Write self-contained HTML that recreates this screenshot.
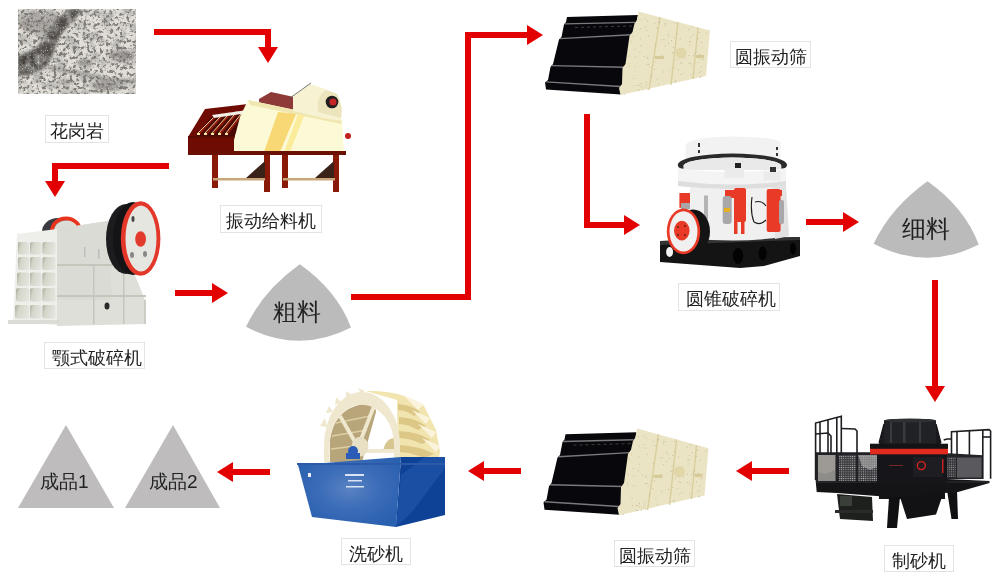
<!DOCTYPE html>
<html><head><meta charset="utf-8">
<style>
html,body{margin:0;padding:0;background:#fff;width:1000px;height:582px;overflow:hidden;}
body{position:relative;font-family:"Liberation Sans",sans-serif;-webkit-font-smoothing:antialiased;}
.lbl,.pt{will-change:transform;}
.lbl{position:absolute;box-sizing:border-box;border:1px solid #e3e3e3;background:#fff;color:#222;font-size:17.6px;line-height:30px;text-align:center;white-space:nowrap;}
.pt{position:absolute;color:#222;white-space:nowrap;}
svg{position:absolute;left:0;top:0;}
</style></head><body>
<svg id="bg" width="1000" height="582" viewBox="0 0 1000 582">
<defs>
<filter id="rockf" x="0" y="0" width="100%" height="100%">
<feTurbulence type="fractalNoise" baseFrequency="0.3" numOctaves="3" seed="11"/>
<feColorMatrix type="matrix" values="0 0 0 0 0.16  0 0 0 0 0.15  0 0 0 0 0.14  -6 0 0 0 3.0"/>
</filter>
<filter id="rockm" x="0" y="0" width="100%" height="100%">
<feTurbulence type="fractalNoise" baseFrequency="0.09" numOctaves="2" seed="5"/>
<feColorMatrix type="matrix" values="0 0 0 0 0.45  0 0 0 0 0.44  0 0 0 0 0.42  -4 0 0 0 2.2"/>
</filter>
<filter id="blur2" x="-20%" y="-20%" width="140%" height="140%"><feGaussianBlur stdDeviation="1.5"/></filter>
<filter id="speck" x="0" y="0" width="100%" height="100%">
<feTurbulence type="turbulence" baseFrequency="0.6" numOctaves="2" seed="3" result="n"/>
<feColorMatrix in="n" type="matrix" values="0 0 0 0 0.97  0 0 0 0 0.96  0 0 0 0 0.94  4 0 0 0 -1.6"/>
</filter>
<clipPath id="rockclip"><rect x="18" y="9" width="118" height="85"/></clipPath>
</defs>
<!-- rock -->
<g clip-path="url(#rockclip)">
<rect x="18" y="9" width="118" height="85" fill="#e0ddd7"/>
<g filter="url(#blur2)" fill="#3a3632">
<path opacity="0.85" d="M70,9 L82,9 Q76,18 68,26 Q58,36 55,48 Q52,60 44,68 Q34,75 18,76 L18,56 Q30,52 38,46 Q46,36 52,26 Q60,16 70,9 Z"/>
<ellipse cx="40" cy="22" rx="22" ry="12" opacity="0.35"/>
<ellipse cx="32" cy="63" rx="14" ry="9" opacity="0.6"/>
<ellipse cx="122" cy="56" rx="13" ry="6" opacity="0.45"/>
<ellipse cx="85" cy="63" rx="8" ry="4" opacity="0.4"/>
<ellipse cx="108" cy="86" rx="16" ry="5" opacity="0.45"/>
<ellipse cx="65" cy="82" rx="9" ry="3" opacity="0.35"/>
<path d="M48,66 Q75,70 103,77 Q120,80 136,80 L136,83 Q118,84 100,80 Q74,74 48,69 Z" opacity="0.5"/>
</g>
<rect x="18" y="9" width="118" height="85" fill="#000" filter="url(#rockm)" opacity="0.8"/>
<rect x="18" y="9" width="118" height="85" fill="#000" filter="url(#rockf)" opacity="0.85"/>
<rect x="18" y="9" width="118" height="85" filter="url(#speck)" opacity="0.5"/>
</g>

<!-- arrows -->
<g fill="#e20000">
<!-- a1 -->
<rect x="154" y="29" width="117" height="6"/>
<rect x="265" y="29" width="6" height="19"/>
<polygon points="258,47 278,47 268,63"/>
<!-- a2 -->
<rect x="52" y="163" width="117" height="6"/>
<rect x="52" y="163" width="6" height="19"/>
<polygon points="45,181 65,181 55,197"/>
<!-- a3 -->
<rect x="175" y="290" width="38" height="6"/>
<polygon points="212,283 228,293 212,303"/>
<!-- a4 -->
<rect x="351" y="294" width="120" height="6"/>
<rect x="465" y="32" width="6" height="268"/>
<rect x="465" y="32" width="63" height="6"/>
<polygon points="527,25 543,35 527,45"/>
<!-- a5 -->
<rect x="584" y="114" width="6" height="114"/>
<rect x="584" y="222" width="41" height="6"/>
<polygon points="624,215 640,225 624,235"/>
<!-- a6 -->
<rect x="806" y="219" width="38" height="6"/>
<polygon points="843,212 859,222 843,232"/>
<!-- a7 -->
<rect x="932" y="280" width="6" height="107"/>
<polygon points="925,386 945,386 935,402"/>
<!-- a8 -->
<rect x="751" y="468" width="38" height="6"/>
<polygon points="752,461 736,471 752,481"/>
<!-- a9 -->
<rect x="483" y="468" width="38" height="6"/>
<polygon points="484,461 468,471 484,481"/>
<!-- a10 -->
<rect x="232" y="469" width="38" height="6"/>
<polygon points="233,462 217,472 233,482"/>
</g>

<!-- piles -->
<g fill="#bbbbbb">
<path d="M299.8,264.3 Q337,290.5 351,327.5 Q298.5,354.5 246,326.8 Q263,290.5 299.8,264.3 Z"/>
<path d="M927.5,181.2 Q964.7,207.4 978.7,244.4 Q926.2,271.4 873.7,243.7 Q890.7,207.4 927.5,181.2 Z"/>
<polygon points="66,425 114,508 18,508" fill="#bebcbd"/>
<polygon points="173,425 220,508 125,508" fill="#bebcbd"/>
</g>
</svg>

<!-- pile text -->
<div class="pt" style="left:273px;top:298px;font-size:24px;line-height:28px;">粗料</div>
<div class="pt" style="left:902px;top:215px;font-size:24px;line-height:28px;">细料</div>
<div class="pt" style="left:40px;top:470px;font-size:19px;line-height:24px;">成品1</div>
<div class="pt" style="left:149px;top:470px;font-size:19px;line-height:24px;">成品2</div>

<!-- labels -->
<div class="lbl" style="left:45px;top:115px;width:64px;height:28px;">花岗岩</div>
<div class="lbl" style="left:220px;top:205px;width:102px;height:28px;">振动给料机</div>
<div class="lbl" style="left:44px;top:342px;width:101px;height:27px;padding-left:5px;">颚式破碎机</div>
<div class="lbl" style="left:730px;top:41px;width:81px;height:27px;">圆振动筛</div>
<div class="lbl" style="left:678px;top:283px;width:102px;height:28px;padding-left:3px;">圆锥破碎机</div>
<div class="lbl" style="left:614px;top:540px;width:81px;height:27px;">圆振动筛</div>
<div class="lbl" style="left:341px;top:538px;width:70px;height:27px;">洗砂机</div>
<div class="lbl" style="left:884px;top:545px;width:70px;height:27px;">制砂机</div>

<!-- machines -->
<svg id="mach" width="1000" height="582" viewBox="0 0 1000 582">


<!-- jaw crusher -->
<g id="jaw">
<!-- rear flywheel -->
<ellipse cx="58" cy="232" rx="16" ry="14" fill="#3a3a42"/>
<path d="M50,231 A16,14.5 0 0 1 82,231 L78,231 A12,10.5 0 0 0 54,231 Z" fill="#e8341c"/>
<path d="M54,231 A12,10.5 0 0 1 78,231 Z" fill="#dcdcd6"/>
<!-- side body -->
<polygon points="55,229 108,221 112,218 145,300 146,324 57,326" fill="#dedfd9"/>
<polygon points="57,229 108,221 112,300 57,300" fill="#dadbd4"/>
<g fill="#c4c6bc">
<rect x="57" y="264" width="88" height="2"/>
<rect x="57" y="295" width="89" height="2"/>
<rect x="93" y="266" width="1.5" height="58"/>
<rect x="123" y="266" width="1.5" height="58"/>
</g>
<rect x="144" y="300" width="2" height="24" fill="#ccccc4"/>
<ellipse cx="107" cy="306" rx="2.5" ry="3.5" fill="#2a2a2a"/>
<g fill="#bdbdbd">
<rect x="84" y="247" width="1.5" height="10"/>
<rect x="98" y="249" width="1.5" height="10"/>
</g>
<!-- front face -->
<polygon points="17,234 57,229 57,325 13,322" fill="#eeeeea"/>
<defs><linearGradient id="cellg" x1="0" y1="0" x2="1" y2="0.3"><stop offset="0" stop-color="#a8ac9a"/><stop offset="0.35" stop-color="#d4d6ca"/><stop offset="1" stop-color="#e2e3dc"/></linearGradient></defs>
<g fill="url(#cellg)">
<rect x="18" y="242" width="11" height="12.5" rx="2"/>
<rect x="30" y="242" width="11.3" height="12.5" rx="2"/>
<rect x="42.4" y="242" width="13" height="12.5" rx="2"/>
<rect x="18" y="257" width="11" height="13" rx="2"/>
<rect x="30" y="257" width="11.3" height="13" rx="2"/>
<rect x="42.4" y="257" width="13" height="13" rx="2"/>
<rect x="17" y="272.6" width="12" height="13.4" rx="2"/>
<rect x="30" y="272.6" width="11.3" height="13.4" rx="2"/>
<rect x="42.4" y="272.6" width="13" height="13.4" rx="2"/>
<rect x="16" y="288" width="13" height="13.6" rx="2"/>
<rect x="30" y="288" width="11.3" height="13.6" rx="2"/>
<rect x="42.4" y="288" width="13" height="13.6" rx="2"/>
<rect x="15" y="305" width="14" height="13.4" rx="2"/>
<rect x="30" y="305" width="11.3" height="13.4" rx="2"/>
<rect x="42.4" y="305" width="13" height="13.4" rx="2"/>
</g>
<rect x="8" y="320" width="52" height="4" fill="#dcdcd6"/>
<!-- big flywheel -->
<ellipse cx="126" cy="239" rx="20" ry="35" fill="#1c1c1e"/>
<ellipse cx="133" cy="238.5" rx="20" ry="36.5" fill="#141416"/>
<ellipse cx="140.6" cy="238.5" rx="19.8" ry="37.3" fill="#e3372a"/>
<ellipse cx="141" cy="238.5" rx="15.5" ry="33" fill="#e6e6e0"/>
<ellipse cx="140.6" cy="239" rx="5.4" ry="7.8" fill="#e23b2d"/>
<ellipse cx="133" cy="219" rx="1.5" ry="3" fill="#444"/>
<ellipse cx="132" cy="255" rx="2" ry="3" fill="#888"/>
<ellipse cx="145" cy="254" rx="2" ry="3" fill="#888"/>
</g>


<!-- screen top -->
<g id="scr1">
<polygon points="567,17 638,15 621,94.5 546,89.6 545,82.5 548,80 550.5,67 553,64 559,39.5 561.5,37 564,24.5 566,22" fill="#08080c"/>
<g stroke="#7a7a7c" stroke-width="1.4">
<line x1="564.7" y1="23.9" x2="635" y2="22.4"/>
<line x1="560" y1="38.6" x2="631.2" y2="34.7"/>
<line x1="551.6" y1="65.6" x2="624.2" y2="67.2"/>
<line x1="546.2" y1="81.9" x2="620.4" y2="86.5"/>
</g>
<g stroke="#4a4a4c" stroke-width="0.8" stroke-dasharray="3,3">
<line x1="575" y1="27.5" x2="632" y2="26"/>
</g>
<polygon points="638.5,11.4 710,30.4 706,76 620.5,95 619,88 622,84 622.5,68 625.5,64 629.5,36 632.5,32 634.5,23.5 637,20" fill="#ebe4c4"/>
<g stroke="#d8ce9e" stroke-width="1.4">
<line x1="660" y1="17" x2="649" y2="90"/>
<line x1="678" y1="22" x2="671" y2="85"/>
<line x1="698" y1="27.5" x2="693" y2="79"/>
</g>
<g fill="#b8ad84" opacity="0.8"><rect x="639.7" y="18.9" width="0.9" height="0.9"/><rect x="654.4" y="23.3" width="0.9" height="0.9"/><rect x="688.4" y="29.1" width="0.9" height="0.9"/><rect x="667.4" y="33.8" width="0.9" height="0.9"/><rect x="637.7" y="89.8" width="0.9" height="0.9"/><rect x="691.6" y="26.6" width="0.9" height="0.9"/><rect x="646.5" y="63.9" width="0.9" height="0.9"/><rect x="673.7" y="67.8" width="0.9" height="0.9"/><rect x="664.5" y="25.3" width="0.9" height="0.9"/><rect x="668.4" y="35.8" width="0.9" height="0.9"/><rect x="701.6" y="59.2" width="0.9" height="0.9"/><rect x="664.8" y="45.6" width="0.9" height="0.9"/><rect x="673.1" y="47.1" width="0.9" height="0.9"/><rect x="632.8" y="36.2" width="0.9" height="0.9"/><rect x="643.8" y="56.0" width="0.9" height="0.9"/><rect x="661.4" y="39.5" width="0.9" height="0.9"/><rect x="656.0" y="27.4" width="0.9" height="0.9"/><rect x="676.2" y="33.8" width="0.9" height="0.9"/><rect x="650.7" y="74.2" width="0.9" height="0.9"/><rect x="647.5" y="58.0" width="0.9" height="0.9"/><rect x="688.4" y="62.9" width="0.9" height="0.9"/><rect x="639.8" y="38.5" width="0.9" height="0.9"/><rect x="634.3" y="49.5" width="0.9" height="0.9"/><rect x="675.1" y="80.3" width="0.9" height="0.9"/><rect x="645.0" y="26.5" width="0.9" height="0.9"/><rect x="658.9" y="21.7" width="0.9" height="0.9"/><rect x="690.1" y="41.2" width="0.9" height="0.9"/><rect x="644.7" y="18.4" width="0.9" height="0.9"/><rect x="629.2" y="55.5" width="0.9" height="0.9"/><rect x="689.2" y="45.2" width="0.9" height="0.9"/><rect x="640.3" y="45.3" width="0.9" height="0.9"/><rect x="640.9" y="86.5" width="0.9" height="0.9"/><rect x="694.5" y="52.9" width="0.9" height="0.9"/><rect x="640.3" y="27.9" width="0.9" height="0.9"/><rect x="639.3" y="84.8" width="0.9" height="0.9"/><rect x="703.4" y="58.6" width="0.9" height="0.9"/><rect x="700.9" y="66.2" width="0.9" height="0.9"/><rect x="690.8" y="74.0" width="0.9" height="0.9"/><rect x="637.4" y="85.1" width="0.9" height="0.9"/><rect x="649.0" y="66.5" width="0.9" height="0.9"/><rect x="691.6" y="65.3" width="0.9" height="0.9"/><rect x="693.0" y="55.4" width="0.9" height="0.9"/><rect x="678.2" y="69.0" width="0.9" height="0.9"/><rect x="642.7" y="89.4" width="0.9" height="0.9"/><rect x="676.4" y="59.0" width="0.9" height="0.9"/><rect x="692.5" y="77.3" width="0.9" height="0.9"/><rect x="698.8" y="57.4" width="0.9" height="0.9"/><rect x="679.8" y="38.4" width="0.9" height="0.9"/><rect x="700.0" y="76.5" width="0.9" height="0.9"/><rect x="661.4" y="55.3" width="0.9" height="0.9"/><rect x="672.7" y="52.0" width="0.9" height="0.9"/><rect x="697.6" y="62.3" width="0.9" height="0.9"/><rect x="630.8" y="41.2" width="0.9" height="0.9"/><rect x="688.6" y="55.0" width="0.9" height="0.9"/><rect x="668.0" y="42.8" width="0.9" height="0.9"/><rect x="690.4" y="36.8" width="0.9" height="0.9"/><rect x="639.5" y="51.9" width="0.9" height="0.9"/><rect x="628.5" y="63.4" width="0.9" height="0.9"/><rect x="699.5" y="54.1" width="0.9" height="0.9"/><rect x="657.9" y="83.8" width="0.9" height="0.9"/><rect x="645.8" y="81.9" width="0.9" height="0.9"/><rect x="656.9" y="78.7" width="0.9" height="0.9"/><rect x="633.4" y="85.2" width="0.9" height="0.9"/><rect x="663.5" y="39.1" width="0.9" height="0.9"/><rect x="646.7" y="56.9" width="0.9" height="0.9"/><rect x="662.8" y="71.5" width="0.9" height="0.9"/><rect x="640.6" y="82.9" width="0.9" height="0.9"/><rect x="650.8" y="75.9" width="0.9" height="0.9"/><rect x="680.3" y="62.4" width="0.9" height="0.9"/><rect x="646.8" y="88.5" width="0.9" height="0.9"/><rect x="646.1" y="84.6" width="0.9" height="0.9"/><rect x="690.4" y="62.7" width="0.9" height="0.9"/><rect x="658.7" y="22.1" width="0.9" height="0.9"/><rect x="688.9" y="41.1" width="0.9" height="0.9"/><rect x="701.0" y="42.0" width="0.9" height="0.9"/><rect x="671.0" y="40.1" width="0.9" height="0.9"/><rect x="634.5" y="66.3" width="0.9" height="0.9"/><rect x="648.1" y="35.8" width="0.9" height="0.9"/><rect x="671.7" y="52.6" width="0.9" height="0.9"/><rect x="628.7" y="66.0" width="0.9" height="0.9"/><rect x="680.1" y="74.1" width="0.9" height="0.9"/><rect x="674.8" y="81.5" width="0.9" height="0.9"/><rect x="655.4" y="61.5" width="0.9" height="0.9"/><rect x="700.5" y="70.5" width="0.9" height="0.9"/><rect x="646.5" y="29.8" width="0.9" height="0.9"/><rect x="648.0" y="63.9" width="0.9" height="0.9"/><rect x="654.8" y="44.5" width="0.9" height="0.9"/><rect x="693.2" y="34.4" width="0.9" height="0.9"/><rect x="634.9" y="56.5" width="0.9" height="0.9"/><rect x="681.8" y="62.9" width="0.9" height="0.9"/><rect x="675.3" y="23.4" width="0.9" height="0.9"/><rect x="624.2" y="93.7" width="0.9" height="0.9"/><rect x="673.5" y="36.9" width="0.9" height="0.9"/><rect x="638.4" y="89.8" width="0.9" height="0.9"/><rect x="700.1" y="76.9" width="0.9" height="0.9"/><rect x="633.0" y="78.0" width="0.9" height="0.9"/><rect x="680.6" y="57.1" width="0.9" height="0.9"/><rect x="706.3" y="32.6" width="0.9" height="0.9"/><rect x="666.2" y="23.5" width="0.9" height="0.9"/><rect x="647.1" y="20.5" width="0.9" height="0.9"/><rect x="644.6" y="86.6" width="0.9" height="0.9"/><rect x="682.6" y="72.9" width="0.9" height="0.9"/><rect x="698.8" y="71.9" width="0.9" height="0.9"/><rect x="669.5" y="69.7" width="0.9" height="0.9"/><rect x="684.6" y="57.5" width="0.9" height="0.9"/><rect x="664.2" y="23.3" width="0.9" height="0.9"/><rect x="695.7" y="51.6" width="0.9" height="0.9"/><rect x="698.5" y="32.0" width="0.9" height="0.9"/><rect x="654.0" y="68.7" width="0.9" height="0.9"/><rect x="697.3" y="38.2" width="0.9" height="0.9"/></g>
<circle cx="681" cy="53" r="5.5" fill="#e0d6a8"/>
<rect x="655" y="56" width="9" height="3" fill="#d5ca98"/>
<rect x="696" y="55" width="8" height="3" fill="#d5ca98"/>
</g>


<!-- cone crusher -->
<g id="cone">
<!-- base -->
<polygon points="660,241 800,237 800,256 764,266 740,268 660,262" fill="#141414"/>
<polygon points="660,241 800,237 800,240 660,245" fill="#333"/>
<g fill="#030303">
<ellipse cx="738" cy="256" rx="5" ry="8"/>
<ellipse cx="762.6" cy="253.5" rx="4" ry="7"/>
<ellipse cx="793" cy="248.6" rx="3" ry="6"/>
</g>
<ellipse cx="669.6" cy="252" rx="3.5" ry="5" fill="#f4f4f4"/>
<!-- lower body -->
<path d="M690,186 L786,186 L789,236 Q740,244 690,238 Z" fill="#f0f0f0"/>
<path d="M772,186 L786,186 L789,236 L775,239 Z" fill="#e2e2e2"/>
<!-- top cap -->
<path d="M685.6,145 Q690,137 732,136.5 Q775,137 780.5,142 L780.5,158 Q732,164 685.6,158 Z" fill="#f2f2f2"/>
<rect x="698" y="143" width="2" height="4" fill="#333"/>
<rect x="698" y="150" width="2" height="3" fill="#333"/>
<rect x="776" y="147" width="2" height="3" fill="#333"/>
<rect x="776" y="153" width="2" height="3" fill="#333"/>
<!-- gear ring -->
<path fill="#2a2a2a" fill-rule="evenodd" d="M677.8,165 A54.6,11.5 0 1 0 787,165 A54.6,11.5 0 1 0 677.8,165 Z M683.5,166 A48.9,8.5 0 1 0 781.3,166 A48.9,8.5 0 1 0 683.5,166 Z"/>
<path fill="#e9e9e9" d="M683.5,166 A48.9,8.5 0 1 1 781.3,166 L781.3,170 L683.5,170 Z"/>
<!-- middle ring -->
<path d="M678,168 Q732,176 786,168 L786,186 Q732,192 678,186 Z" fill="#f4f4f4"/>
<path d="M678,181 Q732,188 786,181 L786,186 Q732,192 678,186 Z" fill="#dedede"/>
<rect x="724.6" y="167.7" width="19.5" height="10.5" fill="#ebebeb"/>
<rect x="763.6" y="171.6" width="17" height="9" fill="#ebebeb"/>
<rect x="735" y="163" width="6" height="5" fill="#222"/>
<rect x="770" y="167" width="6" height="5" fill="#333"/>
<!-- cylinders -->
<g fill="#e83a26">
<rect x="725" y="190" width="21" height="8"/>
<rect x="734" y="188" width="12" height="34" rx="2"/>
<rect x="734" y="221" width="3.5" height="13"/>
<rect x="741" y="221" width="3.5" height="13"/>
<rect x="766.7" y="189" width="13.9" height="43" rx="2"/>
<rect x="779" y="190" width="3" height="6"/>
<rect x="679.4" y="193" width="10.6" height="14.8"/>
</g>
<g fill="#a8a8aa">
<rect x="722.7" y="196" width="9" height="28" rx="3"/>
<rect x="779" y="200" width="5" height="24" rx="2"/>
<rect x="681" y="203" width="9" height="6"/>
<rect x="704" y="195.5" width="4" height="23.5" fill="#b4b4b6"/>
</g>
<rect x="724" y="208" width="6" height="4" fill="#e8b020"/>
<path d="M752,197 Q750,212 754,222 Q760,226 766,220 M755,202 Q762,200 766,206" stroke="#1a1a1a" stroke-width="1.1" fill="none"/>
<!-- flywheel -->
<ellipse cx="693" cy="231.4" rx="17" ry="22" fill="#141414"/>
<ellipse cx="683.5" cy="231.4" rx="16.7" ry="22.9" fill="#e83a26"/>
<ellipse cx="683.5" cy="231.4" rx="14" ry="20.2" fill="#f0f0f0"/>
<ellipse cx="681.8" cy="230.6" rx="7.8" ry="9.8" fill="#e83a26"/>
<g fill="#5a1a10"><circle cx="678" cy="227" r="0.9"/><circle cx="685" cy="226" r="0.9"/><circle cx="678" cy="235" r="0.9"/><circle cx="685" cy="235" r="0.9"/></g>
</g>

<!-- sand maker -->
<g id="vsi">
<defs>
<pattern id="mesh" width="2.2" height="2.2" patternUnits="userSpaceOnUse">
<rect width="2.2" height="2.2" fill="#3a3a3e"/>
<circle cx="1.1" cy="1.1" r="0.6" fill="#b8b8b8"/>
</pattern>
</defs>
<!-- lower motor & hopper & legs -->
<polygon points="837,494 872,497 873,521 840,519" fill="#1e201e"/>
<rect x="840" y="496" width="12" height="10" fill="#3a3f3a"/>
<rect x="835" y="510" width="38" height="3" fill="#2a2a2a"/>
<rect x="879" y="482" width="66" height="17" fill="#141416"/>
<polygon points="900,497 943,494 936,514.5 907,519" fill="#121214"/>
<polygon points="889,497 900,497 897,528 887,528" fill="#101012"/>
<polygon points="947,490 957,490 958,519 951.5,519" fill="#101012"/>
<!-- platform beam -->
<polygon points="815.6,480 890,483 947,479 989.5,481 989.5,483 958,492 890,497 837,493 816.7,492" fill="#141416"/>
<rect x="816" y="481" width="173" height="2" fill="#222226"/>
<!-- left platform mesh -->
<rect x="816" y="453" width="63" height="30" fill="#242428"/>
<rect x="818" y="455" width="17.5" height="26" fill="#8e8c88"/>
<rect x="839" y="455" width="17.5" height="26" fill="url(#mesh)"/>
<rect x="858" y="455" width="20" height="26" fill="url(#mesh)"/>
<path d="M858,455 L878,455 L878,466 L870,470 L862,466 Z" fill="#a8a8a8" opacity="0.7"/>
<path d="M818,455 L835,455 L835,470 L826,474 L818,472 Z" fill="#a6a4a0" opacity="0.6"/>
<!-- right platform mesh -->
<polygon points="944,453 983,455.3 983,479 944,479" fill="#242428"/>
<rect x="957" y="457.5" width="24.5" height="20" fill="#5a5a5e"/>
<rect x="946" y="457" width="10" height="20" fill="url(#mesh)" opacity="0.8"/>
<!-- railings -->
<g stroke="#1e1e22" stroke-width="1.6" fill="none">
<polyline points="815.6,480 815.6,423 841.3,416.2 841.3,455"/>
<line x1="820" y1="422" x2="820" y2="455"/>
<line x1="828" y1="420" x2="828" y2="455"/>
<line x1="836.8" y1="417.5" x2="836.8" y2="455"/>
<polyline points="841.3,428.5 855,429 857,431 857,483"/>
<polyline points="815.6,434 828,433 831,436 831,455"/>
<line x1="816" y1="453" x2="879" y2="453"/>
<polyline points="951.5,455 951.5,431.8 989,429.6 990.6,431 990.6,478.7"/>
<line x1="957" y1="431.5" x2="957" y2="455"/>
<line x1="969.4" y1="430.8" x2="969.4" y2="455"/>
<line x1="982.8" y1="430" x2="982.8" y2="479"/>
<polyline points="943.7,440 947,439 951.5,439"/>
<polyline points="982.8,437 990.6,437"/>
</g>
<!-- central drum -->
<polygon points="879,444 884,424 936,424 941,444" fill="#1a1a1e"/>
<rect x="884" y="420.3" width="52" height="24" fill="#202226"/>
<ellipse cx="910" cy="420.5" rx="26" ry="2" fill="#2e3034"/>
<g fill="#383a3e">
<rect x="890" y="422" width="2" height="21"/>
<rect x="903" y="422" width="2.5" height="21"/>
<rect x="919" y="422" width="2" height="21"/>
</g>
<g stroke="#121214" stroke-width="1.2" fill="none">
<line x1="884" y1="424" x2="879" y2="443"/>
<line x1="936" y1="424" x2="941" y2="443"/>
</g>
<rect x="870" y="443.7" width="78" height="5.5" fill="#141416"/>
<rect x="877" y="453" width="70" height="31" fill="#16161a"/>
<rect x="870" y="448.8" width="78" height="5.5" fill="#e32a1e"/>
<rect x="913" y="457" width="30" height="20" fill="#1e1e22"/>
<circle cx="921.3" cy="465.6" r="4" fill="none" stroke="#d82020" stroke-width="1.4"/>
<rect x="942" y="459" width="1.5" height="14" fill="#c02020"/>
<rect x="889" y="465" width="14" height="0.8" fill="#8a2a2a"/>
</g>

<!-- screen bottom -->
<g transform="translate(-1.5,417) translate(0,11.4) scale(1,1.04) translate(0,-11.4)">
<polygon points="567,17 638,15 621,94.5 546,89.6 545,82.5 548,80 550.5,67 553,64 559,39.5 561.5,37 564,24.5 566,22" fill="#08080c"/>
<g stroke="#7a7a7c" stroke-width="1.4">
<line x1="564.7" y1="23.9" x2="635" y2="22.4"/>
<line x1="560" y1="38.6" x2="631.2" y2="34.7"/>
<line x1="551.6" y1="65.6" x2="624.2" y2="67.2"/>
<line x1="546.2" y1="81.9" x2="620.4" y2="86.5"/>
</g>
<g stroke="#4a4a4c" stroke-width="0.8" stroke-dasharray="3,3">
<line x1="575" y1="27.5" x2="632" y2="26"/>
</g>
<polygon points="638.5,11.4 710,30.4 706,76 620.5,95 619,88 622,84 622.5,68 625.5,64 629.5,36 632.5,32 634.5,23.5 637,20" fill="#ebe4c4"/>
<g stroke="#d8ce9e" stroke-width="1.4">
<line x1="660" y1="17" x2="649" y2="90"/>
<line x1="678" y1="22" x2="671" y2="85"/>
<line x1="698" y1="27.5" x2="693" y2="79"/>
</g>
<g fill="#b8ad84" opacity="0.8"><rect x="639.7" y="18.9" width="0.9" height="0.9"/><rect x="654.4" y="23.3" width="0.9" height="0.9"/><rect x="688.4" y="29.1" width="0.9" height="0.9"/><rect x="667.4" y="33.8" width="0.9" height="0.9"/><rect x="637.7" y="89.8" width="0.9" height="0.9"/><rect x="691.6" y="26.6" width="0.9" height="0.9"/><rect x="646.5" y="63.9" width="0.9" height="0.9"/><rect x="673.7" y="67.8" width="0.9" height="0.9"/><rect x="664.5" y="25.3" width="0.9" height="0.9"/><rect x="668.4" y="35.8" width="0.9" height="0.9"/><rect x="701.6" y="59.2" width="0.9" height="0.9"/><rect x="664.8" y="45.6" width="0.9" height="0.9"/><rect x="673.1" y="47.1" width="0.9" height="0.9"/><rect x="632.8" y="36.2" width="0.9" height="0.9"/><rect x="643.8" y="56.0" width="0.9" height="0.9"/><rect x="661.4" y="39.5" width="0.9" height="0.9"/><rect x="656.0" y="27.4" width="0.9" height="0.9"/><rect x="676.2" y="33.8" width="0.9" height="0.9"/><rect x="650.7" y="74.2" width="0.9" height="0.9"/><rect x="647.5" y="58.0" width="0.9" height="0.9"/><rect x="688.4" y="62.9" width="0.9" height="0.9"/><rect x="639.8" y="38.5" width="0.9" height="0.9"/><rect x="634.3" y="49.5" width="0.9" height="0.9"/><rect x="675.1" y="80.3" width="0.9" height="0.9"/><rect x="645.0" y="26.5" width="0.9" height="0.9"/><rect x="658.9" y="21.7" width="0.9" height="0.9"/><rect x="690.1" y="41.2" width="0.9" height="0.9"/><rect x="644.7" y="18.4" width="0.9" height="0.9"/><rect x="629.2" y="55.5" width="0.9" height="0.9"/><rect x="689.2" y="45.2" width="0.9" height="0.9"/><rect x="640.3" y="45.3" width="0.9" height="0.9"/><rect x="640.9" y="86.5" width="0.9" height="0.9"/><rect x="694.5" y="52.9" width="0.9" height="0.9"/><rect x="640.3" y="27.9" width="0.9" height="0.9"/><rect x="639.3" y="84.8" width="0.9" height="0.9"/><rect x="703.4" y="58.6" width="0.9" height="0.9"/><rect x="700.9" y="66.2" width="0.9" height="0.9"/><rect x="690.8" y="74.0" width="0.9" height="0.9"/><rect x="637.4" y="85.1" width="0.9" height="0.9"/><rect x="649.0" y="66.5" width="0.9" height="0.9"/><rect x="691.6" y="65.3" width="0.9" height="0.9"/><rect x="693.0" y="55.4" width="0.9" height="0.9"/><rect x="678.2" y="69.0" width="0.9" height="0.9"/><rect x="642.7" y="89.4" width="0.9" height="0.9"/><rect x="676.4" y="59.0" width="0.9" height="0.9"/><rect x="692.5" y="77.3" width="0.9" height="0.9"/><rect x="698.8" y="57.4" width="0.9" height="0.9"/><rect x="679.8" y="38.4" width="0.9" height="0.9"/><rect x="700.0" y="76.5" width="0.9" height="0.9"/><rect x="661.4" y="55.3" width="0.9" height="0.9"/><rect x="672.7" y="52.0" width="0.9" height="0.9"/><rect x="697.6" y="62.3" width="0.9" height="0.9"/><rect x="630.8" y="41.2" width="0.9" height="0.9"/><rect x="688.6" y="55.0" width="0.9" height="0.9"/><rect x="668.0" y="42.8" width="0.9" height="0.9"/><rect x="690.4" y="36.8" width="0.9" height="0.9"/><rect x="639.5" y="51.9" width="0.9" height="0.9"/><rect x="628.5" y="63.4" width="0.9" height="0.9"/><rect x="699.5" y="54.1" width="0.9" height="0.9"/><rect x="657.9" y="83.8" width="0.9" height="0.9"/><rect x="645.8" y="81.9" width="0.9" height="0.9"/><rect x="656.9" y="78.7" width="0.9" height="0.9"/><rect x="633.4" y="85.2" width="0.9" height="0.9"/><rect x="663.5" y="39.1" width="0.9" height="0.9"/><rect x="646.7" y="56.9" width="0.9" height="0.9"/><rect x="662.8" y="71.5" width="0.9" height="0.9"/><rect x="640.6" y="82.9" width="0.9" height="0.9"/><rect x="650.8" y="75.9" width="0.9" height="0.9"/><rect x="680.3" y="62.4" width="0.9" height="0.9"/><rect x="646.8" y="88.5" width="0.9" height="0.9"/><rect x="646.1" y="84.6" width="0.9" height="0.9"/><rect x="690.4" y="62.7" width="0.9" height="0.9"/><rect x="658.7" y="22.1" width="0.9" height="0.9"/><rect x="688.9" y="41.1" width="0.9" height="0.9"/><rect x="701.0" y="42.0" width="0.9" height="0.9"/><rect x="671.0" y="40.1" width="0.9" height="0.9"/><rect x="634.5" y="66.3" width="0.9" height="0.9"/><rect x="648.1" y="35.8" width="0.9" height="0.9"/><rect x="671.7" y="52.6" width="0.9" height="0.9"/><rect x="628.7" y="66.0" width="0.9" height="0.9"/><rect x="680.1" y="74.1" width="0.9" height="0.9"/><rect x="674.8" y="81.5" width="0.9" height="0.9"/><rect x="655.4" y="61.5" width="0.9" height="0.9"/><rect x="700.5" y="70.5" width="0.9" height="0.9"/><rect x="646.5" y="29.8" width="0.9" height="0.9"/><rect x="648.0" y="63.9" width="0.9" height="0.9"/><rect x="654.8" y="44.5" width="0.9" height="0.9"/><rect x="693.2" y="34.4" width="0.9" height="0.9"/><rect x="634.9" y="56.5" width="0.9" height="0.9"/><rect x="681.8" y="62.9" width="0.9" height="0.9"/><rect x="675.3" y="23.4" width="0.9" height="0.9"/><rect x="624.2" y="93.7" width="0.9" height="0.9"/><rect x="673.5" y="36.9" width="0.9" height="0.9"/><rect x="638.4" y="89.8" width="0.9" height="0.9"/><rect x="700.1" y="76.9" width="0.9" height="0.9"/><rect x="633.0" y="78.0" width="0.9" height="0.9"/><rect x="680.6" y="57.1" width="0.9" height="0.9"/><rect x="706.3" y="32.6" width="0.9" height="0.9"/><rect x="666.2" y="23.5" width="0.9" height="0.9"/><rect x="647.1" y="20.5" width="0.9" height="0.9"/><rect x="644.6" y="86.6" width="0.9" height="0.9"/><rect x="682.6" y="72.9" width="0.9" height="0.9"/><rect x="698.8" y="71.9" width="0.9" height="0.9"/><rect x="669.5" y="69.7" width="0.9" height="0.9"/><rect x="684.6" y="57.5" width="0.9" height="0.9"/><rect x="664.2" y="23.3" width="0.9" height="0.9"/><rect x="695.7" y="51.6" width="0.9" height="0.9"/><rect x="698.5" y="32.0" width="0.9" height="0.9"/><rect x="654.0" y="68.7" width="0.9" height="0.9"/><rect x="697.3" y="38.2" width="0.9" height="0.9"/></g>
<circle cx="681" cy="53" r="5.5" fill="#e0d6a8"/>
<rect x="655" y="56" width="9" height="3" fill="#d5ca98"/>
<rect x="696" y="55" width="8" height="3" fill="#d5ca98"/>
</g>


<!-- sand washer -->
<g id="wash">
<!-- buckets (back right) -->
<path d="M366,391 Q402,390 424,406 L436,430 L440,452 L438,462 L398,462 L397,400 Z" fill="#f1e4ae"/>
<g fill="#dcc786">
<path d="M398,404 Q412,405 420,412 L414,416 Q406,410 398,410 Z"/>
<path d="M399,417 Q416,418 426,426 L418,430 Q408,424 399,424 Z"/>
<path d="M399,431 Q420,432 430,440 L422,444 Q410,438 399,438 Z"/>
<path d="M399,445 Q420,446 434,454 L424,458 Q410,452 399,452 Z"/>
</g>
<g fill="#faf4dc">
<path d="M404,396 L424,404 L418,410 Z"/>
<path d="M412,410 L430,418 L426,424 Z"/>
<path d="M418,424 L436,432 L432,438 Z"/>
<path d="M422,438 L440,446 L436,452 Z"/>
</g>
<!-- inner back -->
<path d="M330,462 L330,440 Q334,410 362,404 Q376,404 376,412 L362,462 Z" fill="#b9a57a"/>
<g stroke="#dccfa8" stroke-width="1.3">
<line x1="336" y1="423" x2="370" y2="416"/>
<line x1="332" y1="436" x2="367" y2="430"/>
<line x1="331" y1="449" x2="363" y2="445"/>
</g>
<path d="M383,452 Q385,438 395,438 L395,452 Z" fill="#d8c690"/>
<!-- front rim -->
<path fill-rule="evenodd" fill="#efe8cf" d="M324,462 L324,445 A38,53 0 0 1 400,445 L400,462 L394,462 L394,445 A32.2,40.4 0 0 0 329.6,445 L329.6,462 Z"/>
<!-- teeth on rim -->
<g fill="#efe8cf">
<polygon points="325,418 320,426 327,427"/>
<polygon points="329,406 326,413 333,412"/>
<polygon points="336,397 335,405 341,402"/>
<polygon points="346,391 346,398 352,395"/>
<polygon points="358,388 361,394 365,391"/>
</g>
<!-- spokes -->
<g stroke="#efe8cf" stroke-width="3.8" fill="none">
<line x1="358" y1="447" x2="340" y2="416"/>
<line x1="358" y1="447" x2="376" y2="401"/>
<line x1="360" y1="451" x2="400" y2="450.8"/>
</g>
<ellipse cx="360" cy="446.6" rx="8.4" ry="9.8" fill="#e8e0c4"/>
<circle cx="353" cy="451" r="5" fill="#2a5cb8"/>
<rect x="346" y="453" width="14" height="6" fill="#2a5cb8"/>
<!-- tank -->
<defs><radialGradient id="tankg" cx="0.5" cy="0.45" r="0.6"><stop offset="0" stop-color="#5a82c2"/><stop offset="0.5" stop-color="#3a6cb8"/><stop offset="1" stop-color="#2a60b0"/></radialGradient></defs>
<polygon points="401,457 445,457 445,515 396,527" fill="#0e4296"/>
<polygon points="298,465 401,457 396,527 312,517" fill="url(#tankg)"/>
<polygon points="425,457 445,457 445,468 412,512 396,527 401,475" fill="#1a4fa4"/>
<rect x="297" y="463" width="148" height="2" fill="#2c5aa8"/>
<g fill="#d8e4f6">
<rect x="345" y="474" width="19" height="2"/>
<rect x="348" y="480" width="14" height="1.5"/>
<rect x="346" y="486" width="18" height="1.5"/>
</g>
<rect x="308" y="473" width="3" height="4" fill="#eee"/>
</g>

<!-- feeder -->
<g id="feeder">
<!-- legs -->
<g fill="#8a1a08">
<rect x="212" y="154" width="6" height="34"/>
<rect x="264" y="154" width="6" height="38"/>
<rect x="282" y="154" width="6" height="34"/>
<rect x="333" y="154" width="6" height="38"/>
</g>
<g fill="#3b2219">
<polygon points="246,178 265,161 265,179"/>
<polygon points="315,178 334,161 334,179"/>
</g>
<g fill="#c9a57a">
<rect x="213" y="178" width="52" height="2.5"/>
<rect x="283" y="178" width="52" height="2.5"/>
</g>
<!-- back top red -->
<polygon points="259,99 271,92 294,97 294,111 259,104" fill="#8e3a38"/>
<!-- left red box -->
<polygon points="188,137 205,109 248,104 248,110 213,115 235,112 235,153 188,153" fill="#6e0c04"/>
<polygon points="196,136 212,116 248,110 235,136" fill="#4a0804"/>
<g stroke="#8a1a0a" stroke-width="2.2">
<line x1="199" y1="134" x2="215" y2="117"/>
<line x1="206" y1="134" x2="222" y2="116"/>
<line x1="213" y1="134" x2="229" y2="115"/>
<line x1="220" y1="134" x2="236" y2="114"/>
<line x1="227" y1="134" x2="243" y2="113"/>
</g>
<g stroke="#f0dca8" stroke-width="0.9">
<line x1="198" y1="133" x2="213" y2="118"/>
<line x1="205" y1="133" x2="220" y2="117"/>
<line x1="212" y1="133" x2="227" y2="116"/>
<line x1="219" y1="133" x2="234" y2="115"/>
<line x1="226" y1="133" x2="241" y2="114"/>
</g>
<g fill="#f5e6a0">
<rect x="197" y="133" width="3" height="2"/><rect x="204" y="133" width="3" height="2"/><rect x="211" y="133" width="3" height="2"/><rect x="218" y="133" width="3" height="2"/><rect x="225" y="133" width="3" height="2"/>
</g>
<polygon points="212,115 248,110 248,113 214,118" fill="#f2efe6"/>
<rect x="188" y="136" width="47" height="2" fill="#580a02"/>
<!-- yellow body -->
<polygon points="234,140 240,117 248,100 342,120 344,152 234,152" fill="#fcfad6"/>
<polygon points="248,100 342,120 341,124 250,105" fill="#efe6b0"/>
<polygon points="264,152 278,112 296,114 280,152" fill="#f8d874"/>
<polygon points="284,152 298,114 304,116 290,152" fill="#fbec9c"/>
<!-- motor housing -->
<polygon points="293,96 310,84 325,89 337,94 342,108 341,121 323,118 293,111" fill="#f6f2d2"/>
<path d="M318,112 Q316,96 326,90 L337,94 Q343,104 341,118 Z" fill="#ece4bc"/>
<line x1="290" y1="98" x2="311" y2="83" stroke="#555" stroke-width="0.8"/>
<circle cx="332" cy="102" r="6.3" fill="#1f1f1f"/>
<circle cx="333" cy="102" r="3.6" fill="#c5262c"/>
<circle cx="348" cy="136" r="3" fill="#c21f1f"/>
<!-- bottom beam -->
<rect x="188" y="151" width="158" height="4" fill="#6a1004"/>
</g>
</svg>
</body></html>
